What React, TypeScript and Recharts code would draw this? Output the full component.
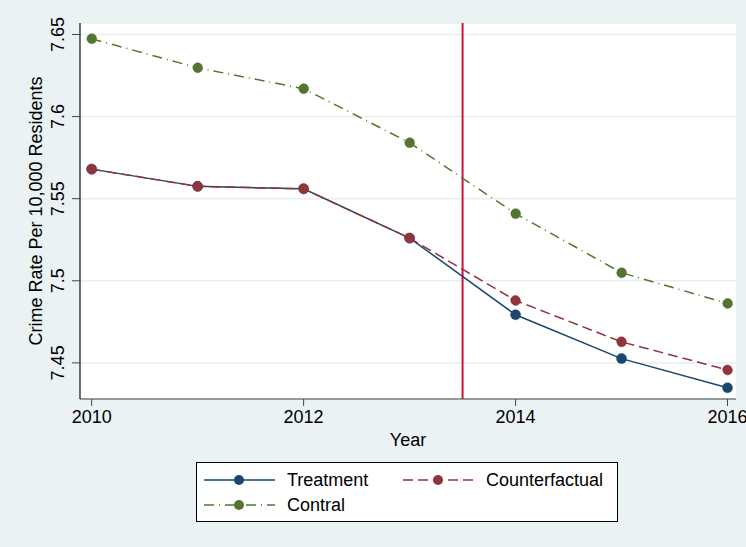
import React from 'react';
import { LineChart, Line, XAxis, YAxis, CartesianGrid, ReferenceLine, Label } from 'recharts';

const years = [2010, 2011, 2012, 2013, 2014, 2015, 2016];
const treatment = [7.568, 7.5575, 7.556, 7.526, 7.4793, 7.4526, 7.4348];
const counterfactual = [7.568, 7.5575, 7.556, 7.526, 7.488, 7.4628, 7.4457];
const contral = [7.6474, 7.6297, 7.617, 7.5841, 7.5409, 7.5049, 7.4862];

const xTicks = [2010, 2012, 2014, 2016];
const yTicks = [7.45, 7.5, 7.55, 7.6, 7.65];
const policyYear = 2013.5;

const FONT = 'Arial, "Liberation Sans", Helvetica, sans-serif';
const BG = '#eaf2f3';

const seriesDefs = [
  { key: 'treatment', name: 'Treatment', color: '#1a476f', dash: undefined as string | undefined },
  { key: 'counterfactual', name: 'Counterfactual', color: '#90353b', dash: '10 5' },
  { key: 'contral', name: 'Contral', color: '#55752f', dash: '10 5 1 5' },
];

const data = years.map((year, i) => ({
  year,
  treatment: treatment[i],
  counterfactual: counterfactual[i],
  contral: contral[i],
}));

const YTick = (props: any) => {
  const { x, y, payload } = props;
  return (
    <text
      transform={`translate(${x - 6},${y}) rotate(-90)`}
      textAnchor="middle"
      fontSize={18}
      fontFamily={FONT}
      fill="#000"
    >
      {payload.value}
    </text>
  );
};

const XTick = (props: any) => {
  const { x, y, payload } = props;
  return (
    <text x={x} y={y + 15} textAnchor="middle" fontSize={18} fontFamily={FONT} fill="#000">
      {payload.value}
    </text>
  );
};

const YTitle = (props: any) => {
  const { viewBox } = props;
  const cy = viewBox.y + viewBox.height / 2;
  return (
    <text
      transform={`translate(42,${cy}) rotate(-90)`}
      textAnchor="middle"
      fontSize={18}
      fontFamily={FONT}
      fill="#000"
    >
      Crime Rate Per 10,000 Residents
    </text>
  );
};

const LegendBox = () => {
  // two items on the first row, one on the second
  const slots = [
    { x: 7, y: 17 },
    { x: 206, y: 17 },
    { x: 7, y: 42 },
  ];
  return (
    <div
      style={{
        position: 'absolute',
        left: 196,
        top: 462,
        width: 422,
        height: 60,
        background: '#fff',
        border: '1px solid #000',
        boxSizing: 'border-box',
      }}
    >
      <svg width={420} height={58}>
        {seriesDefs.map((s, i) => {
          const p = slots[i];
          return (
            <g key={s.key}>
              <line
                x1={p.x}
                x2={p.x + 71}
                y1={p.y}
                y2={p.y}
                stroke={s.color}
                strokeWidth={1.5}
                strokeDasharray={s.dash}
              />
              <circle cx={p.x + 35} cy={p.y} r={5} fill={s.color} />
              <text x={p.x + 83} y={p.y + 6} fontSize={18} fontFamily={FONT} fill="#000">
                {s.name}
              </text>
            </g>
          );
        })}
      </svg>
    </div>
  );
};

export default function App() {
  return (
    <div style={{ position: 'relative', width: 746, height: 547, background: BG }}>
      <style>{`body{margin:0}`}</style>
      <LineChart
        width={746}
        height={547}
        data={data}
        margin={{ top: 23, right: 10, left: 0, bottom: 98 }}
      >
        <CartesianGrid
          horizontal
          vertical={false}
          fill="#fff"
          stroke="#e6eef0"
          strokeWidth={1.5}
        />
        <XAxis
          dataKey="year"
          type="number"
          domain={[2009.89, 2016.08]}
          ticks={xTicks}
          height={50}
          tickSize={7}
          tickMargin={2}
          tick={<XTick />}
          axisLine={{ stroke: '#444', strokeWidth: 1.2 }}
          tickLine={{ stroke: '#444' }}
        >
          <Label value="Year" position="insideBottom" offset={3} fontSize={18} fontFamily={FONT} fill="#000" />
        </XAxis>
        <YAxis
          type="number"
          domain={[7.428, 7.657]}
          ticks={yTicks}
          width={80}
          tickSize={8}
          tickMargin={2}
          tick={<YTick />}
          axisLine={{ stroke: '#111', strokeWidth: 1.2 }}
          tickLine={{ stroke: '#444' }}
          allowDataOverflow
        >
          <Label content={<YTitle />} />
        </YAxis>
        <ReferenceLine x={policyYear} stroke="#d0103a" strokeWidth={2} />
        {seriesDefs.map((s) => (
          <Line
            key={s.key}
            dataKey={s.key}
            name={s.name}
            stroke={s.color}
            strokeWidth={1.5}
            strokeDasharray={s.dash}
            dot={{ r: 5, fill: s.color, stroke: s.color, strokeWidth: 0.5 }}
            activeDot={false}
            isAnimationActive={false}
          />
        ))}
      </LineChart>
      <LegendBox />
    </div>
  );
}
